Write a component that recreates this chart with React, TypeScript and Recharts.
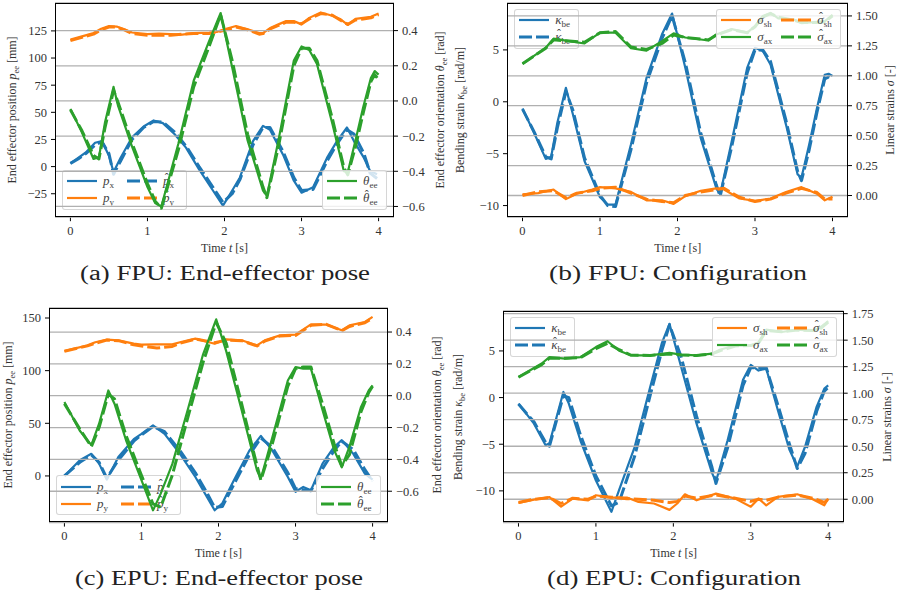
import React from 'react'
import { CartesianGrid, Line, LineChart, XAxis, YAxis } from 'recharts'

const BLUE = '#1f77b4'
const ORANGE = '#ff7f0e'
const GREEN = '#2ca02c'
const SERIF = '"Liberation Serif", "Times New Roman", serif'

const timeTicks = [0, 1, 2, 3, 4]

// (a) FPU: end-effector pose
const aPxT = [0, 0.1, 0.2, 0.32, 0.41, 0.5, 0.56, 0.65, 0.8, 0.95, 1.08, 1.2, 1.35, 1.5, 1.67, 1.85, 1.98, 2.1, 2.2, 2.37, 2.5, 2.59, 2.76, 2.9, 3.0, 3.15, 3.33, 3.46, 3.59, 3.68, 3.81, 3.89, 3.98]
const aPx = [3, 8, 13, 22, 23.5, 10, -5, 8, 27, 37, 42.5, 40, 30, 17.5, -2.5, -22, -36, -22, -10, 23.5, 37.5, 34, 11, -13, -24, -19, 8, 23.5, 36, 23.5, 8, -4, -7]
const aPxHat = [3, 7, 12, 20, 23, 12, -7, 5, 25, 36, 41.5, 41, 32, 19, 0, -19, -33, -25, -12, 20, 36, 36, 14, -10, -22, -21, 5, 21, 34, 30, 12, -6, -11]
const aPyT = [0, 0.15, 0.3, 0.4, 0.5, 0.6, 0.7, 0.8, 1.0, 1.15, 1.3, 1.45, 1.6, 1.8, 1.9, 2.0, 2.15, 2.3, 2.45, 2.5, 2.6, 2.7, 2.8, 2.9, 3.0, 3.1, 3.25, 3.4, 3.5, 3.6, 3.7, 3.8, 3.9, 4.0]
const aPy = [117, 120, 123, 127, 129.5, 129, 126.5, 123.5, 122, 122.5, 122, 121.5, 123, 123.5, 124, 126.5, 129.5, 126.5, 123, 123, 128, 131, 134, 134, 131, 137, 142, 139, 136, 130.5, 136, 137, 138, 141]
const aPyHat = [116, 119, 122, 126, 128.5, 128.5, 126, 122.5, 121, 121, 121, 122, 122.5, 122.5, 124, 125.5, 128.5, 126, 122, 122.5, 127, 130, 133, 133, 131.5, 136, 141, 139.5, 135, 131, 135, 136, 137, 140]
const aThT = [0, 0.15, 0.3, 0.37, 0.45, 0.56, 0.62, 0.8, 1.0, 1.1, 1.18, 1.4, 1.6, 1.8, 1.95, 2.1, 2.3, 2.5, 2.55, 2.7, 2.9, 3.0, 3.1, 3.2, 3.4, 3.55, 3.6, 3.7, 3.8, 3.9, 3.95, 4.0]
const aTh = [-0.045, -0.18, -0.33, -0.32, -0.12, 0.08, -0.03, -0.26, -0.49, -0.58, -0.6, -0.245, 0.115, 0.34, 0.5, 0.19, -0.225, -0.51, -0.54, -0.225, 0.23, 0.31, 0.29, 0.21, -0.13, -0.4, -0.405, -0.225, -0.036, 0.13, 0.17, 0.15]
const aThHat = [-0.05, -0.17, -0.31, -0.33, -0.15, 0.06, -0.01, -0.24, -0.47, -0.57, -0.61, -0.28, 0.08, 0.31, 0.49, 0.23, -0.19, -0.49, -0.55, -0.26, 0.2, 0.3, 0.3, 0.23, -0.1, -0.38, -0.42, -0.26, -0.07, 0.11, 0.15, 0.12]

// (b) FPU: configuration
const bKT = [0, 0.15, 0.3, 0.37, 0.45, 0.56, 0.65, 0.8, 1.0, 1.1, 1.2, 1.4, 1.6, 1.8, 1.93, 2.1, 2.3, 2.5, 2.55, 2.7, 2.9, 3.0, 3.1, 3.2, 3.4, 3.55, 3.6, 3.7, 3.8, 3.9, 3.95, 4.0]
const bK = [-0.64, -3.0, -5.5, -5.3, -2.0, 1.35, -1.2, -5.7, -9.2, -9.9, -9.9, -4.1, 2.3, 6.5, 8.5, 3.3, -3.5, -8.3, -8.9, -3.8, 3.3, 5.2, 4.9, 3.6, -2.2, -7.0, -7.3, -4.1, -0.6, 2.6, 2.7, 2.5]
const bKHat = [-0.7, -2.9, -5.3, -5.5, -2.5, 1.0, -0.8, -5.4, -9.0, -10.0, -10.1, -4.6, 1.8, 6.1, 8.3, 3.8, -3.0, -8.0, -9.1, -4.3, 2.8, 5.0, 5.0, 3.9, -1.8, -6.7, -7.6, -4.6, -1.0, 2.2, 2.4, 2.2]
const bSaxT = [0, 0.3, 0.4, 0.6, 0.8, 1.0, 1.2, 1.4, 1.6, 1.8, 1.95, 2.1, 2.4, 2.5, 2.7, 2.9, 3.0, 3.1, 3.2, 3.3, 3.5, 3.6, 3.8, 3.9, 4.0]
const bSax = [1.1, 1.235, 1.31, 1.29, 1.27, 1.36, 1.36, 1.23, 1.21, 1.29, 1.355, 1.32, 1.295, 1.345, 1.39, 1.36, 1.415, 1.5, 1.525, 1.48, 1.47, 1.44, 1.45, 1.455, 1.51]
const bSaxHat = [1.1, 1.23, 1.3, 1.29, 1.28, 1.36, 1.37, 1.24, 1.22, 1.27, 1.34, 1.32, 1.3, 1.34, 1.385, 1.36, 1.41, 1.49, 1.52, 1.49, 1.465, 1.445, 1.445, 1.45, 1.5]
const bSshT = [0, 0.2, 0.4, 0.56, 0.7, 0.9, 1.0, 1.2, 1.4, 1.6, 1.8, 1.95, 2.1, 2.3, 2.5, 2.6, 2.8, 3.0, 3.2, 3.4, 3.6, 3.8, 3.9, 4.0]
const bSsh = [0.01, 0.02, 0.05, -0.03, 0.015, 0.05, 0.07, 0.06, 0.03, -0.04, -0.04, -0.07, -0.005, 0.04, 0.06, 0.05, -0.025, -0.045, -0.025, 0.03, 0.07, 0.015, -0.04, -0.01]
const bSshHat = [0.0, 0.03, 0.04, -0.02, 0.02, 0.04, 0.06, 0.07, 0.02, -0.03, -0.05, -0.06, 0.0, 0.03, 0.05, 0.06, -0.015, -0.05, -0.03, 0.02, 0.06, 0.025, -0.03, -0.03]

// (c) EPU: end-effector pose
const cPxT = [0, 0.2, 0.35, 0.45, 0.55, 0.7, 0.9, 1.0, 1.15, 1.3, 1.5, 1.7, 1.85, 1.95, 2.05, 2.2, 2.4, 2.55, 2.7, 2.9, 3.0, 3.1, 3.2, 3.35, 3.5, 3.6, 3.75, 3.9, 4.0]
const cPx = [0, 15, 21, 11.7, -3.5, 18, 35, 40, 48, 40, 21, -1, -20, -32.6, -26, -4, 24, 38, 24, -1, -15, -10.4, -13.6, 11.7, 27.5, 34, 21, 2.2, -3.5]
const cPxHat = [0, 13, 20, 13, -2, 15, 33, 39, 47, 42, 24, 3, -16, -30, -29, -8, 20, 36, 27, 3, -12, -13, -14, 7, 24, 33, 25, 6, -5]
const cPyT = [0, 0.3, 0.4, 0.55, 0.7, 0.9, 1.0, 1.2, 1.4, 1.5, 1.7, 1.95, 2.1, 2.3, 2.5, 2.6, 2.8, 3.0, 3.2, 3.4, 3.6, 3.7, 3.9, 4.0]
const cPy = [118.7, 124, 127, 129.4, 128.8, 125.6, 124.7, 125, 125, 127, 130.4, 125.6, 129.7, 128.8, 124, 128.8, 133.5, 134.2, 144, 143.7, 138.3, 143, 146.2, 151]
const cPyHat = [118.5, 123.5, 126, 129, 128.5, 124.5, 123.5, 121.5, 123, 126, 130, 126.5, 129, 128.5, 123.5, 128, 133, 133.5, 143, 144, 138, 142, 145.5, 150]
const cThT = [0, 0.2, 0.35, 0.45, 0.57, 0.65, 0.8, 1.0, 1.15, 1.25, 1.4, 1.6, 1.8, 1.97, 2.1, 2.3, 2.5, 2.55, 2.7, 2.9, 3.0, 3.1, 3.2, 3.35, 3.5, 3.6, 3.7, 3.85, 3.95, 4.0]
const cTh = [-0.04, -0.22, -0.31, -0.176, 0.033, -0.05, -0.28, -0.53, -0.72, -0.615, -0.43, -0.09, 0.26, 0.48, 0.28, -0.09, -0.47, -0.52, -0.26, 0.096, 0.18, 0.17, 0.17, -0.09, -0.34, -0.45, -0.32, -0.07, 0.033, 0.065]
const cThHat = [-0.05, -0.21, -0.32, -0.2, 0.01, -0.02, -0.25, -0.5, -0.68, -0.7, -0.5, -0.14, 0.21, 0.46, 0.33, -0.05, -0.44, -0.53, -0.3, 0.06, 0.17, 0.18, 0.18, -0.05, -0.3, -0.44, -0.37, -0.1, 0.02, 0.06]

// (d) EPU: configuration
const dKT = [0, 0.2, 0.35, 0.4, 0.58, 0.65, 0.8, 1.0, 1.15, 1.2, 1.3, 1.5, 1.7, 1.85, 1.95, 2.1, 2.3, 2.5, 2.55, 2.7, 2.9, 3.0, 3.1, 3.2, 3.35, 3.5, 3.6, 3.7, 3.85, 3.95, 4.0]
const dK = [-0.64, -2.8, -5.1, -4.9, 0.6, -0.64, -4.6, -8.9, -11.4, -12.25, -9.9, -5.3, 1.1, 5.8, 7.9, 3.3, -2.8, -8.1, -9.0, -4.6, 1.9, 3.5, 2.9, 3.1, -1.36, -5.6, -7.4, -5.3, -1.0, 0.96, 1.3]
const dKHat = [-0.7, -2.6, -4.8, -5.2, 0.2, 0.0, -4.0, -8.4, -10.8, -11.6, -11.2, -6.3, 0.2, 5.0, 7.8, 4.4, -2.0, -7.5, -9.2, -5.4, 1.3, 3.2, 3.2, 3.2, -0.8, -5.0, -7.6, -6.0, -1.5, 0.7, 1.1]
const dSaxT = [0, 0.3, 0.4, 0.6, 0.8, 1.0, 1.15, 1.3, 1.45, 1.7, 1.95, 2.1, 2.3, 2.5, 2.6, 2.8, 3.0, 3.1, 3.2, 3.4, 3.6, 3.8, 3.9, 4.0]
const dSax = [1.153, 1.28, 1.34, 1.326, 1.34, 1.435, 1.49, 1.4, 1.357, 1.357, 1.38, 1.363, 1.357, 1.373, 1.41, 1.45, 1.45, 1.48, 1.6, 1.577, 1.6, 1.587, 1.62, 1.68]
const dSaxHat = [1.15, 1.27, 1.33, 1.33, 1.335, 1.42, 1.47, 1.41, 1.36, 1.355, 1.37, 1.36, 1.355, 1.37, 1.4, 1.445, 1.45, 1.47, 1.59, 1.58, 1.595, 1.59, 1.61, 1.67]
const dSshT = [0, 0.2, 0.4, 0.55, 0.7, 0.9, 1.0, 1.2, 1.4, 1.55, 1.75, 1.95, 2.05, 2.15, 2.3, 2.55, 2.8, 3.0, 3.1, 3.2, 3.35, 3.6, 3.8, 3.95, 4.0]
const dSsh = [-0.035, -0.003, 0.02, -0.07, 0.006, -0.01, 0.038, 0.016, 0.016, -0.025, -0.04, -0.1, -0.04, 0.047, -0.01, 0.053, 0.006, -0.07, 0.006, -0.057, 0.022, 0.047, 0.0, -0.057, 0.006]
const dSshHat = [-0.03, 0.0, 0.015, -0.04, 0.01, 0.0, 0.03, 0.02, 0.005, 0.0, -0.01, -0.03, -0.02, 0.03, 0.01, 0.04, 0.01, -0.02, 0.0, -0.01, 0.02, 0.04, 0.01, -0.03, 0.0]

const poseLeftTicks = [-25, 0, 25, 50, 75, 100, 125]
const poseLeftTicksC = [0, 50, 100, 150]
const poseRightTicks = [-0.6, -0.4, -0.2, 0, 0.2, 0.4]
const confLeftTicks = [-10, -5, 0, 5]
const confRightTicksB = [0, 0.25, 0.5, 0.75, 1, 1.25, 1.5]
const confRightTicksD = [0, 0.25, 0.5, 0.75, 1, 1.25, 1.5, 1.75]

type Series = { t: number[]; v: number[]; color: string; dashed?: boolean }
type Entry = { color: string; dashed?: boolean; label: React.ReactNode }
type Corner = 'll' | 'lr' | 'ul' | 'ur'

interface PanelCfg {
  x0: number
  x1: number
  y0: number
  y1: number
  leftDomain: [number, number]
  leftTicks: number[]
  rightDomain: [number, number]
  rightTicks: number[]
  rightDigits: number
  left: Series[]
  right: Series[]
  leftLabel: React.ReactNode
  rightLabel: React.ReactNode
  leftLabelX: number
  rightLabelX: number
  caption: string
  captionWidth: number
  legend1: { corner: Corner; cols: Entry[][] }
  legend2: { corner: Corner; cols: Entry[][] }
}

const DASH = '13 4'
const pts = (t: number[], v: number[]) => t.map((x, i) => ({ t: x, v: v[i] }))
const fmt = (d: number) => (v: number) => v.toFixed(d).replace('-', '\u2212')

const Sub = ({ children }: { children: React.ReactNode }) => (
  <span style={{ fontSize: '0.7em', position: 'relative', top: '0.3em', fontStyle: 'normal' }}>{children}</span>
)
// italic symbol with optional hat and upright subscript
const M = ({ s, sub, hat }: { s: string; sub?: string; hat?: boolean }) => (
  <span>
    <span style={{ position: 'relative', display: 'inline-block' }}>
      <i>{s}</i>
      {hat ? (
        <span
          style={{
            position: 'absolute',
            left: '0.14em',
            top: '-0.02em',
            fontSize: '0.9em',
            fontStyle: 'normal',
            lineHeight: 1,
          }}
        >
          {'\u02c6'}
        </span>
      ) : null}
    </span>
    {sub ? <Sub>{sub}</Sub> : null}
  </span>
)

const tickStyle = { fontSize: 12.5, fill: '#333', fontFamily: SERIF }

function drawLines(series: Series[], prefix: string) {
  return series.map((s, i) => (
    <Line
      key={prefix + i}
      data={pts(s.t, s.v)}
      dataKey="v"
      type="linear"
      stroke={s.color}
      strokeWidth={s.dashed ? 3 : 2.2}
      strokeDasharray={s.dashed ? DASH : undefined}
      strokeLinejoin="round"
      dot={false}
      isAnimationActive={false}
    />
  ))
}

function LegendBox({ cfg, corner, cols, z }: { cfg: PanelCfg; corner: Corner; cols: Entry[][]; z: number }) {
  const pad = 7
  const pos: React.CSSProperties = {}
  if (corner[0] === 'l') pos.bottom = 595 - (cfg.y1 - pad)
  else pos.top = cfg.y0 + pad - 1
  if (corner[1] === 'l') pos.left = cfg.x0 + pad
  else pos.right = 900 - (cfg.x1 - pad)
  return (
    <div
      style={{
        position: 'absolute',
        ...pos,
        zIndex: z,
        background: 'rgba(255,255,255,0.8)',
        border: '1px solid rgba(204,204,204,0.8)',
        borderRadius: 3,
        padding: '2px 5px 2px 4px',
        display: 'flex',
        gap: 6,
        fontFamily: SERIF,
        fontSize: 13,
        color: '#444',
      }}
    >
      {cols.map((col, i) => (
        <div key={i}>
          {col.map((e, j) => (
            <div key={j} style={{ display: 'flex', alignItems: 'center', height: 17 }}>
              <svg width={30} height={8}>
                <line
                  x1={0}
                  x2={30}
                  y1={4}
                  y2={4}
                  stroke={e.color}
                  strokeWidth={e.dashed ? 3 : 2.2}
                  strokeDasharray={e.dashed ? DASH : undefined}
                />
              </svg>
              <span style={{ marginLeft: 6, minWidth: 18 }}>{e.label}</span>
            </div>
          ))}
        </div>
      ))}
    </div>
  )
}

function Panel({ cfg }: { cfg: PanelCfg }) {
  const { x0, x1, y0, y1 } = cfg
  const w = x1 - x0 + 120
  const h = y1 - y0 + 38
  const box: React.CSSProperties = { position: 'absolute', left: x0 - 60, top: y0 - 10 }
  const cx = (x0 + x1) / 2
  const cy = (y0 + y1) / 2
  const rotLabel = (x: number, content: React.ReactNode) => (
    <div
      style={{
        position: 'absolute',
        left: x,
        top: cy,
        transform: 'translate(-50%, -50%) rotate(-90deg)',
        whiteSpace: 'nowrap',
        fontFamily: SERIF,
        fontSize: 12,
        color: '#333',
      }}
    >
      {content}
    </div>
  )
  return (
    <>
      <div style={{ ...box, zIndex: 1 }}>
        <LineChart width={w} height={h} margin={{ top: 10, right: 60, bottom: 0, left: 0 }}>
          <XAxis
            dataKey="t"
            type="number"
            domain={[-0.2, 4.2]}
            ticks={timeTicks}
            allowDataOverflow
            axisLine={false}
            tickLine={{ stroke: '#000' }}
            tickSize={4}
            tickMargin={5}
            tick={tickStyle}
            height={28}
          />
          <YAxis
            type="number"
            domain={cfg.leftDomain}
            ticks={cfg.leftTicks}
            allowDataOverflow
            width={60}
            axisLine={false}
            tickLine={{ stroke: '#000' }}
            tickSize={4}
            tickMargin={4}
            tick={tickStyle}
            tickFormatter={fmt(0)}
          />
          {drawLines(cfg.left, 'l')}
        </LineChart>
      </div>
      <LegendBox cfg={cfg} corner={cfg.legend1.corner} cols={cfg.legend1.cols} z={2} />
      <div style={{ ...box, zIndex: 3 }}>
        <LineChart width={w} height={h} margin={{ top: 10, right: 0, bottom: 28, left: 60 }}>
          <CartesianGrid vertical={false} stroke="#b0b0b0" strokeWidth={1.3} />
          <XAxis dataKey="t" type="number" domain={[-0.2, 4.2]} allowDataOverflow hide />
          <YAxis
            orientation="right"
            type="number"
            domain={cfg.rightDomain}
            ticks={cfg.rightTicks}
            allowDataOverflow
            width={60}
            axisLine={false}
            tickLine={{ stroke: '#000' }}
            tickSize={4}
            tickMargin={4}
            tick={tickStyle}
            tickFormatter={fmt(cfg.rightDigits)}
          />
          {drawLines(cfg.right, 'r')}
        </LineChart>
      </div>
      <LegendBox cfg={cfg} corner={cfg.legend2.corner} cols={cfg.legend2.cols} z={4} />
      <div
        style={{
          position: 'absolute',
          left: x0,
          top: y0,
          width: x1 - x0,
          height: y1 - y0,
          border: '1px solid #000',
          boxSizing: 'border-box',
          zIndex: 5,
          pointerEvents: 'none',
        }}
      />
      {rotLabel(cfg.leftLabelX, cfg.leftLabel)}
      {rotLabel(cfg.rightLabelX, cfg.rightLabel)}
      <div
        style={{
          position: 'absolute',
          left: cx,
          top: y1 + 31,
          transform: 'translate(-50%, -50%)',
          whiteSpace: 'nowrap',
          fontFamily: SERIF,
          fontSize: 12,
          color: '#333',
        }}
      >
        Time <i>t</i> [s]
      </div>
      <svg style={{ position: 'absolute', left: cx - 200, top: y1 + 42 }} width={400} height={30}>
        <text
          x={200}
          y={21}
          textAnchor="middle"
          fontFamily={SERIF}
          fontSize={20}
          fill="#222"
          textLength={cfg.captionWidth}
          lengthAdjust="spacingAndGlyphs"
        >
          {cfg.caption}
        </text>
      </svg>
    </>
  )
}

const pLegend = (): Entry[][] => [
  [
    { color: BLUE, label: <M s="p" sub="x" /> },
    { color: ORANGE, label: <M s="p" sub="y" /> },
  ],
  [
    { color: BLUE, dashed: true, label: <M s="p" sub="x" hat /> },
    { color: ORANGE, dashed: true, label: <M s="p" sub="y" hat /> },
  ],
]
const thLegend = (): Entry[][] => [
  [
    { color: GREEN, label: <M s={'\u03b8'} sub="ee" /> },
    { color: GREEN, dashed: true, label: <M s={'\u03b8'} sub="ee" hat /> },
  ],
]
const kLegend = (): Entry[][] => [
  [
    { color: BLUE, label: <M s={'\u03ba'} sub="be" /> },
    { color: BLUE, dashed: true, label: <M s={'\u03ba'} sub="be" hat /> },
  ],
]
const sLegend = (): Entry[][] => [
  [
    { color: ORANGE, label: <M s={'\u03c3'} sub="sh" /> },
    { color: GREEN, label: <M s={'\u03c3'} sub="ax" /> },
  ],
  [
    { color: ORANGE, dashed: true, label: <M s={'\u03c3'} sub="sh" hat /> },
    { color: GREEN, dashed: true, label: <M s={'\u03c3'} sub="ax" hat /> },
  ],
]

const poseLeftLabel = (
  <span>
    End effector position <M s="p" sub="ee" /> [mm]
  </span>
)
const poseRightLabel = (
  <span>
    End effector orientation <M s={'\u03b8'} sub="ee" /> [rad]
  </span>
)
const confLeftLabel = (
  <span>
    Bending strain <M s={'\u03ba'} sub="be" /> [rad/m]
  </span>
)
const confRightLabel = (
  <span>
    Linear strains <i>{'\u03c3'}</i> [-]
  </span>
)

const panels: PanelCfg[] = [
  {
    x0: 55, x1: 394, y0: 2.5, y1: 216.7,
    leftDomain: [-46.6, 150.7], leftTicks: poseLeftTicks,
    rightDomain: [-0.661, 0.557], rightTicks: poseRightTicks, rightDigits: 1,
    left: [
      { t: aPxT, v: aPx, color: BLUE },
      { t: aPxT, v: aPxHat, color: BLUE, dashed: true },
      { t: aPyT, v: aPy, color: ORANGE },
      { t: aPyT, v: aPyHat, color: ORANGE, dashed: true },
    ],
    right: [
      { t: aThT, v: aTh, color: GREEN },
      { t: aThT, v: aThHat, color: GREEN, dashed: true },
    ],
    leftLabel: poseLeftLabel, rightLabel: poseRightLabel, leftLabelX: 12, rightLabelX: 440,
    caption: '(a) FPU: End-effector pose', captionWidth: 290,
    legend1: { corner: 'll', cols: pLegend() },
    legend2: { corner: 'lr', cols: thLegend() },
  },
  {
    x0: 507.3, x1: 848.3, y0: 2.5, y1: 216.7,
    leftDomain: [-11.12, 9.52], leftTicks: confLeftTicks,
    rightDomain: [-0.181, 1.608], rightTicks: confRightTicksB, rightDigits: 2,
    left: [
      { t: bKT, v: bK, color: BLUE },
      { t: bKT, v: bKHat, color: BLUE, dashed: true },
    ],
    right: [
      { t: bSshT, v: bSsh, color: ORANGE },
      { t: bSshT, v: bSshHat, color: ORANGE, dashed: true },
      { t: bSaxT, v: bSax, color: GREEN },
      { t: bSaxT, v: bSaxHat, color: GREEN, dashed: true },
    ],
    leftLabel: confLeftLabel, rightLabel: confRightLabel, leftLabelX: 460, rightLabelX: 890,
    caption: '(b) FPU: Configuration', captionWidth: 258,
    legend1: { corner: 'ul', cols: kLegend() },
    legend2: { corner: 'ur', cols: sLegend() },
  },
  {
    x0: 49, x1: 388, y0: 307.7, y1: 522.3,
    leftDomain: [-44.3, 159.5], leftTicks: poseLeftTicksC,
    rightDomain: [-0.797, 0.551], rightTicks: poseRightTicks, rightDigits: 1,
    left: [
      { t: cPxT, v: cPx, color: BLUE },
      { t: cPxT, v: cPxHat, color: BLUE, dashed: true },
      { t: cPyT, v: cPy, color: ORANGE },
      { t: cPyT, v: cPyHat, color: ORANGE, dashed: true },
    ],
    right: [
      { t: cThT, v: cTh, color: GREEN },
      { t: cThT, v: cThHat, color: GREEN, dashed: true },
    ],
    leftLabel: poseLeftLabel, rightLabel: poseRightLabel, leftLabelX: 8, rightLabelX: 437,
    caption: '(c) EPU: End-effector pose', captionWidth: 288,
    legend1: { corner: 'll', cols: pLegend() },
    legend2: { corner: 'lr', cols: thLegend() },
  },
  {
    x0: 503.3, x1: 844, y0: 310.7, y1: 522.3,
    leftDomain: [-13.4, 9.28], leftTicks: confLeftTicks,
    rightDomain: [-0.22, 1.775], rightTicks: confRightTicksD, rightDigits: 2,
    left: [
      { t: dKT, v: dK, color: BLUE },
      { t: dKT, v: dKHat, color: BLUE, dashed: true },
    ],
    right: [
      { t: dSshT, v: dSsh, color: ORANGE },
      { t: dSshT, v: dSshHat, color: ORANGE, dashed: true },
      { t: dSaxT, v: dSax, color: GREEN },
      { t: dSaxT, v: dSaxHat, color: GREEN, dashed: true },
    ],
    leftLabel: confLeftLabel, rightLabel: confRightLabel, leftLabelX: 458, rightLabelX: 887,
    caption: '(d) EPU: Configuration', captionWidth: 254,
    legend1: { corner: 'ul', cols: kLegend() },
    legend2: { corner: 'ur', cols: sLegend() },
  },
]

export default function App(): React.JSX.Element {
  return (
    <div
      style={{
        position: 'absolute',
        left: 0,
        top: 0,
        width: 900,
        height: 595,
        background: '#fff',
        overflow: 'hidden',
      }}
    >
      {panels.map((p, i) => (
        <Panel key={i} cfg={p} />
      ))}
    </div>
  )
}
